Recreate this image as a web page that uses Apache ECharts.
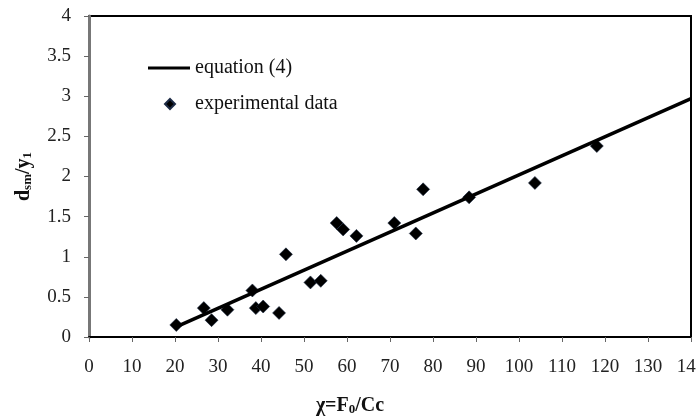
<!DOCTYPE html>
<html><head><meta charset="utf-8">
<script src="https://cdn.jsdelivr.net/npm/echarts@6/dist/echarts.min.js"></script>
<style>html,body{margin:0;padding:0;background:#fff}#c{width:696px;height:416px}</style>
</head><body><div id="c"></div>
<script>
const expX = [20.3, 26.7, 28.5, 32.2, 38.0, 38.8, 40.5, 44.2, 45.8, 51.5, 53.9, 57.6, 59.1, 62.2, 71.0, 76.0, 77.7, 88.4, 103.7, 118.1];
const expY = [0.15, 0.36, 0.21, 0.34, 0.58, 0.36, 0.38, 0.30, 1.03, 0.68, 0.70, 1.42, 1.34, 1.26, 1.42, 1.29, 1.84, 1.74, 1.92, 2.38];
const eqX = [20, 140];
const eqY = [0.12, 2.97];
const xTicks = [0, 10, 20, 30, 40, 50, 60, 70, 80, 90, 100, 110, 120, 130, 140];
const yTicks = [0, 0.5, 1, 1.5, 2, 2.5, 3, 3.5, 4];

const serif = '"Liberation Serif", "Times New Roman", serif';
const chart = echarts.init(document.getElementById('c'), null, {renderer: 'canvas'});
chart.setOption({
  animation: false,
  backgroundColor: '#fff',
  grid: {left: 89, right: 5, top: 16, bottom: 79, show: true, borderColor: '#000', borderWidth: 2,
    containLabel: false, outerBoundsMode: 'none'},
  legend: [{
    data: [{name: 'equation (4)', icon: 'rect'}],
    orient: 'vertical', left: 143, top: 53, itemWidth: 42, itemHeight: 3,
    textStyle: {fontFamily: serif, fontSize: 20, color: '#111'}
  }, {
    data: [{name: 'experimental data', icon: 'diamond'}],
    orient: 'vertical', left: 159, top: 89, itemWidth: 10, itemHeight: 10,
    textStyle: {fontFamily: serif, fontSize: 20, color: '#111', padding: [0, 0, 0, 15]}
  }],
  xAxis: {
    type: 'value', min: 0, max: 140, interval: 10,
    name: '{n|χ=F}{s|0}{n|/Cc}', nameLocation: 'middle', nameGap: 58,
    nameTextStyle: {padding: [0, 80, 0, 0], rich: {
      n: {fontFamily: serif, fontSize: 20, fontWeight: 'bold', color: '#111'},
      s: {fontFamily: serif, fontSize: 13, fontWeight: 'bold', color: '#111', verticalAlign: 'bottom', padding: [8, 0, 0, 0]}
    }},
    axisLine: {show: true, onZero: false, lineStyle: {color: '#000', width: 2}},
    axisTick: {show: true, inside: false, length: 5, lineStyle: {color: '#666', width: 1}},
    axisLabel: {fontFamily: serif, fontSize: 19, color: '#222', margin: 21,
      formatter: v => xTicks.includes(v) ? String(v) : ''},
    splitLine: {show: false}
  },
  yAxis: {
    type: 'value', min: 0, max: 4, interval: 0.5,
    name: '{n|d}{s|sm}{n|/y}{s|1}', nameLocation: 'middle', nameGap: 55, nameRotate: 90,
    nameTextStyle: {rich: {
      n: {fontFamily: serif, fontSize: 20, fontWeight: 'bold', color: '#111'},
      s: {fontFamily: serif, fontSize: 13, fontWeight: 'bold', color: '#111', verticalAlign: 'bottom', padding: [8, 0, 0, 0]}
    }},
    axisLine: {show: true, onZero: false, lineStyle: {color: '#777', width: 3}},
    axisTick: {show: true, inside: false, length: 5, lineStyle: {color: '#666', width: 1}},
    axisLabel: {fontFamily: serif, fontSize: 19, color: '#222', margin: 18,
      formatter: v => yTicks.includes(v) ? String(v) : ''},
    splitLine: {show: false}
  },
  series: [{
    name: 'equation (4)', type: 'line', data: eqX.map((x, i) => [x, eqY[i]]),
    showSymbol: false, symbol: 'none', lineStyle: {color: '#000', width: 3.5}, itemStyle: {color: '#000'}
  }, {
    name: 'experimental data', type: 'scatter', data: expX.map((x, i) => [x, expY[i]]),
    symbol: 'diamond', symbolSize: 13,
    itemStyle: {color: '#000', borderColor: '#1d2b45', borderWidth: 0.6, opacity: 1}
  }]
});
</script></body></html>
